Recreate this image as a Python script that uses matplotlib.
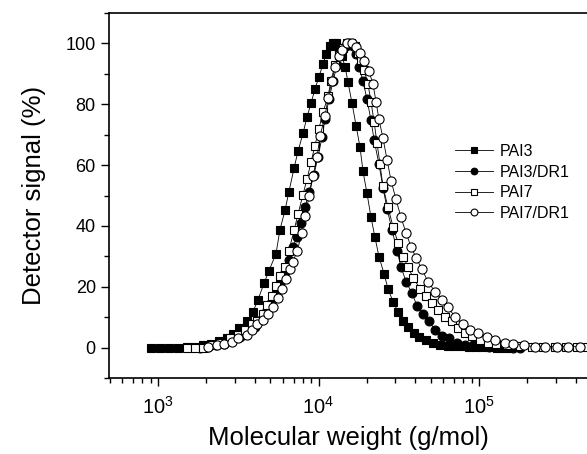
import matplotlib
matplotlib.use("Agg")
import matplotlib.pyplot as plt
from matplotlib.ticker import MultipleLocator, LogLocator, NullFormatter

plt.rcParams['font.family'] = ['Liberation Sans', 'DejaVu Sans']
plt.rcParams['mathtext.fontset'] = 'custom'
plt.rcParams['mathtext.rm'] = 'Liberation Sans'
plt.rcParams['mathtext.it'] = 'Liberation Sans:italic'
plt.rcParams['mathtext.bf'] = 'Liberation Sans:bold'

# PAI3 (filled squares)
pai3_mw = [904, 1029, 1171, 1334, 1517, 1701, 1906, 2138, 2398, 2690, 2932, 3198,
           3588, 3911, 4200, 4575, 4916, 5436, 5754, 6183, 6546, 7035, 7450, 8003,
           8474, 8974, 9502, 10070, 10660, 11140, 11800, 12310, 12850, 13420, 14000,
           14630, 15280, 16180, 17140, 18150, 18940, 20060, 21240, 22490, 23820,
           25590, 27100, 29110, 31270, 33590, 36120, 39370, 42290, 46770, 51660,
           57100, 64080, 70860, 78310, 86650, 95800, 105900, 117200, 129500,
           143300, 158200]
pai3_sig = [0, 0, 0, 0, 0.3, 0.3, 0.7, 1.3, 2.3, 3.3, 4.6, 6.3,
            8.9, 11.8, 15.8, 21.1, 25.3, 30.9, 38.8, 45.1, 51.3, 58.9, 64.5, 70.4,
            75.7, 80.3, 84.9, 89.1, 93.1, 96.4, 99.0, 100, 100, 98.4, 95.7,
            92.4, 87.2, 80.3, 73.0, 65.8, 57.9, 50.7, 42.8, 36.2, 29.9,
            24.3, 19.4, 15.1, 11.8, 8.9, 6.9, 4.9, 3.6, 2.6, 1.6,
            1.0, 0.6, 0.5, 0.4, 0.3, 0.2, 0.1, 0.1, 0, 0, 0]

# PAI3/DR1 (filled circles)
pai3dr1_mw = [1829, 2052, 2298, 2576, 2891, 3243, 3639, 4021, 4384, 4710, 5058, 5436,
              5754, 6183, 6546, 6934, 7345, 7780, 8241, 8730, 9376, 9931, 10520,
              10970, 11620, 12310, 13030, 13810, 14830, 15490, 16400, 17140, 17880,
              18940, 20060, 21240, 22180, 23820, 25230, 26730, 28710, 30830, 32660,
              35080, 38260, 41090, 44780, 48790, 53190, 58760, 65010, 72950, 81800,
              91800, 102800, 115300, 129500, 145200, 162900, 180000]
pai3dr1_sig = [0, 0.3, 0.7, 1.3, 2.3, 3.6, 5.3, 6.9, 9.2, 11.8, 14.8, 18.1,
               21.1, 25.0, 28.9, 33.2, 36.5, 40.8, 46.1, 51.3, 56.9, 62.8, 69.1,
               75.0, 81.6, 87.5, 92.8, 96.4, 99.0, 100, 99.0, 96.4, 92.4,
               87.5, 81.6, 74.7, 68.4, 60.2, 52.6, 45.7, 38.8, 31.9, 26.6,
               21.7, 17.8, 13.8, 11.2, 8.6, 5.9, 3.9, 3.0, 1.6, 1.0,
               0.7, 0.4, 0.3, 0.2, 0.1, 0, 0]

# PAI7 (open squares)
pai7_mw = [1517, 1701, 1906, 2168, 2432, 2812, 3150, 3483, 3852, 4141, 4511, 4777,
           5129, 5436, 5754, 6183, 6546, 7035, 7450, 8003, 8474, 8974, 9502, 10070,
           10660, 11460, 11970, 12670, 13420, 14220, 15070, 15940, 16870, 17620,
           18420, 19210, 20340, 21240, 22180, 23140, 24170, 25230, 27100, 29110,
           31270, 33590, 36120, 38820, 42880, 46770, 50950, 55590, 61420, 67880,
           73960, 81800, 90400, 101400, 113700, 127600, 149300, 180000, 213800,
           250500, 297600, 348400, 408300, 470000]
pai7_sig = [0, 0, 0, 0.7, 1.6, 3.0, 4.3, 5.9, 7.6, 8.9, 10.9, 14.1,
            16.8, 20.1, 23.4, 26.6, 31.9, 38.5, 43.8, 50.3, 55.3, 60.9, 66.4, 72.0,
            77.3, 82.6, 87.8, 92.8, 96.1, 98.4, 100, 100, 99.0, 97.0,
            94.7, 91.4, 86.5, 80.9, 74.3, 67.4, 60.2, 53.0, 46.1, 39.8,
            34.5, 29.9, 26.6, 23.0, 19.4, 16.8, 14.8, 12.5, 10.2, 8.6,
            6.6, 4.9, 3.9, 2.6, 1.6, 1.3, 1.0, 0.4, 0.3,
            0.3, 0.3, 0.3, 0.3, 0.3]

# PAI7/DR1 (open circles)
pai7dr1_mw = [2052, 2333, 2576, 2891, 3150, 3588, 3852, 4141, 4511, 4842, 5208, 5598,
              5929, 6281, 6637, 6934, 7345, 7889, 8241, 8730, 9247, 9795, 10220,
              10970, 11460, 12130, 12670, 13420, 14000, 15070, 16180, 17140, 18150,
              19210, 20650, 21880, 22810, 23820, 25230, 26730, 28310, 30410, 32660,
              35080, 37670, 40460, 44160, 48080, 53190, 58760, 64080, 70860, 79430,
              87860, 98560, 112200, 125900, 145200, 162900, 190600, 223300, 257800,
              306000, 358600, 425600]
pai7dr1_sig = [0.3, 0.7, 1.3, 2.0, 3.3, 4.3, 5.9, 7.6, 9.2, 10.9, 13.5, 16.4,
               19.4, 22.4, 25.7, 28.3, 31.6, 37.8, 43.1, 49.7, 56.3, 62.8, 69.4,
               76.0, 81.9, 87.5, 92.1, 95.7, 98.0, 100, 100, 98.7, 96.7,
               94.1, 90.8, 86.5, 80.9, 75.0, 68.8, 61.8, 54.9, 48.7, 42.8,
               37.8, 33.2, 29.6, 25.7, 21.7, 18.4, 15.8, 13.2, 10.2, 7.6,
               5.9, 4.9, 3.6, 2.6, 1.6, 1.3, 0.7, 0.3, 0.3,
               0.3, 0.3, 0.3]

fig = plt.figure(figsize=(5.87, 4.54), dpi=100)
ax = fig.add_axes([109 / 587, 76 / 454, 478 / 587, 365 / 454])

common = dict(color="black", lw=0.6, mec="black", mew=0.8)
ax.plot(pai3_mw, pai3_sig, marker="s", ms=5.8, mfc="black", label="PAI3", **common)
ax.plot(pai3dr1_mw, pai3dr1_sig, marker="o", ms=6.4, mfc="black", label="PAI3/DR1", **common)
ax.plot(pai7_mw, pai7_sig, marker="s", ms=5.8, mfc="white", label="PAI7", **common)
ax.plot(pai7dr1_mw, pai7dr1_sig, marker="o", ms=6.6, mfc="white", label="PAI7/DR1", **common)

ax.set_xscale("log")
ax.set_xlim(495, 471000)
ax.set_ylim(-10, 110)

ax.yaxis.set_major_locator(MultipleLocator(20))
ax.yaxis.set_minor_locator(MultipleLocator(10))
ax.xaxis.set_major_locator(LogLocator(base=10, numticks=10))
ax.xaxis.set_minor_locator(LogLocator(base=10, subs=range(2, 10), numticks=20))
ax.xaxis.set_minor_formatter(NullFormatter())

ax.tick_params(which="major", direction="out", length=6, width=1.0, labelsize=13,
               top=False, right=False)
ax.tick_params(which="minor", direction="out", length=3.5, width=1.0,
               top=False, right=False)
ax.tick_params(axis="x", which="major", pad=7, labelsize=14.5)

for side in ["left", "bottom", "top"]:
    ax.spines[side].set_linewidth(1.2)
ax.spines["right"].set_visible(False)

ax.set_xlabel("Molecular weight (g/mol)", fontsize=18.5, labelpad=6)
ax.set_ylabel("Detector signal (%)", fontsize=18.5, labelpad=14)

ax.legend(loc="upper left", bbox_to_anchor=(447 / 587, 1 - 136 / 454),
          bbox_transform=fig.transFigure, frameon=False, fontsize=11.5,
          handlelength=2.4, handletextpad=0.4, labelspacing=0.35,
          markerscale=0.75, borderpad=0)

fig.savefig("out.png", dpi=100)
